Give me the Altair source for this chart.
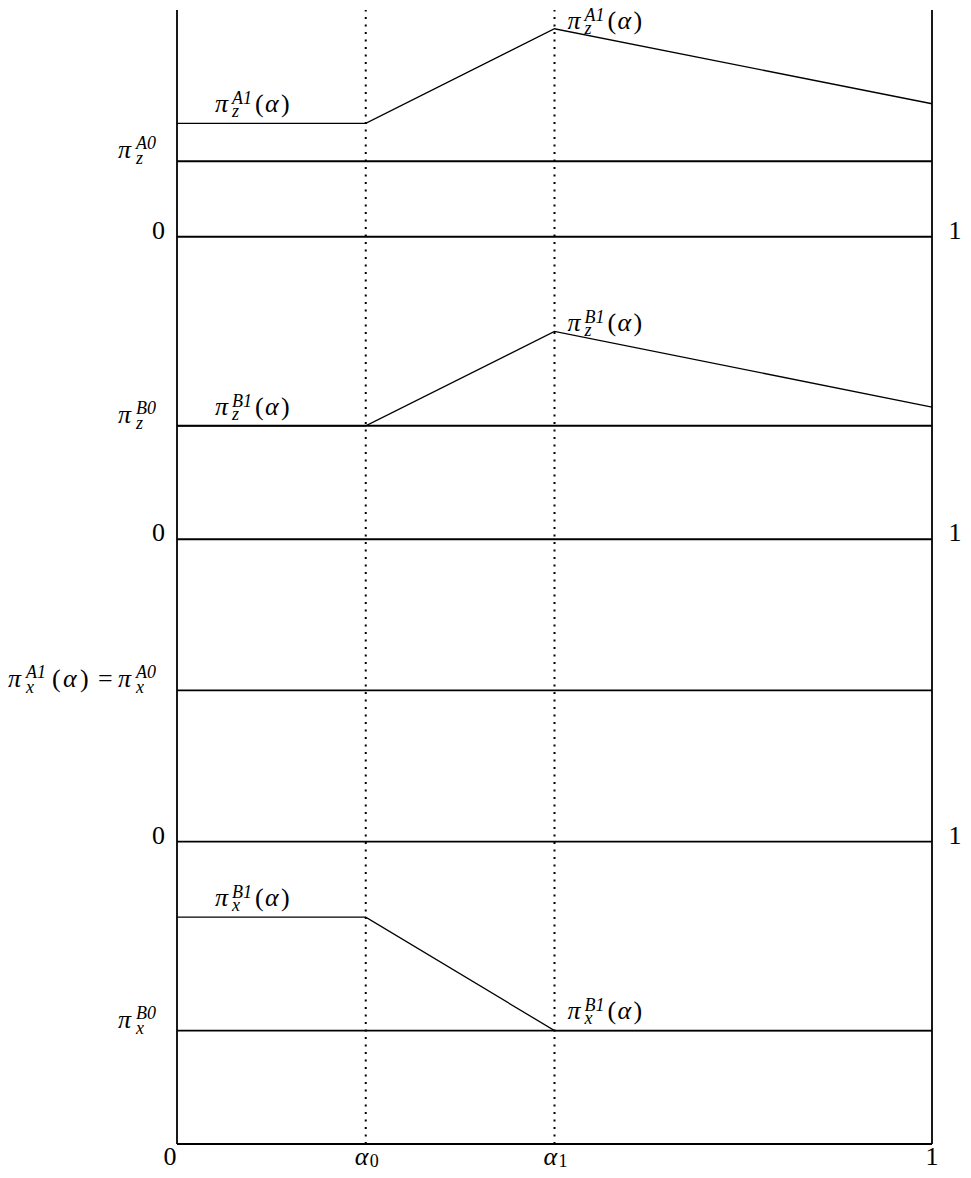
import altair as alt
import pandas as pd

FONT = "Liberation Serif"

# ---------------- data ----------------
# horizontal axis (alpha)
ALPHA_TICKS = [0.0, 0.25, 0.5, 1.0]
TICK_MAIN = ["0", "α", "α", "1"]
TICK_SUB = ["", "0", "1", ""]

# four stacked panels, offsets of their zero lines (top panel first)
PANEL_OFFSETS = [3, 2, 1, 0]
TOP = 3.75

# piecewise curves (values relative to the panel's zero line)
KNOTS = [0.0, 0.25, 0.5, 1.0]
PI_Z_A1 = [0.375, 0.375, 0.688, 0.44]   # panel 1
PI_Z_B1 = [0.375, 0.375, 0.687, 0.437]  # panel 2
PI_X_B1 = [0.75, 0.75, 0.375, 0.375]    # panel 4
CURVE_PANELS = [0, 1, 3]
CURVES = [PI_Z_A1, PI_Z_B1, PI_X_B1]

# constant levels: pi_z^A0, pi_z^B0, pi_x^A0 (= pi_x^A1), pi_x^B0
LEVEL_PANELS = [0, 1, 2, 3]
LEVEL_VALUES = [0.25, 0.375, 0.5, 0.375]
LEVEL_SUP = ["A0", "B0", "A0", "B0"]
LEVEL_SUB = ["z", "z", "x", "x"]

# curve labels: panel, anchor alpha, anchor value, superscript, subscript, placement
CL_PANEL = [0, 0, 1, 1, 3, 3]
CL_X = [0.0, 0.5, 0.0, 0.5, 0.0, 0.5]
CL_Y = [0.375, 0.688, 0.375, 0.687, 0.75, 0.375]
CL_SUP = ["A1", "A1", "B1", "B1", "B1", "B1"]
CL_SUB = ["z", "z", "z", "z", "x", "x"]
CL_PLACE = ["flat", "peak", "flat", "peak", "flat", "after"]

XS = alt.Scale(domain=[0, 1], nice=False, zero=False)
YS = alt.Scale(domain=[0, TOP], nice=False, zero=False)

PLACE_OFFSET = {"flat": (38, -11), "peak": (13, 0), "after": (13, -12)}

layers = []


def piece(x, y, text, dx, dy, size=26, italic=False, align="left", line_height=13):
    df = pd.DataFrame({"x": [x], "y": [y], "t": [text]})
    return alt.Chart(df).mark_text(
        dx=dx, dy=dy, fontSize=size, font=FONT,
        fontStyle="italic" if italic else "normal",
        align=align, baseline="alphabetic", color="black",
        lineHeight=line_height,
    ).encode(
        x=alt.X("x:Q", scale=XS, axis=None),
        y=alt.Y("y:Q", scale=YS, axis=None),
        text=alt.Text("t:N"),
    )


# vertical borders and dotted alpha lines
border_df = pd.DataFrame({"x": [0.0, 1.0], "y": [0.0, 0.0], "y2": [TOP, TOP]})
layers.append(
    alt.Chart(border_df).mark_rule(color="black", strokeWidth=1.8).encode(
        x=alt.X("x:Q", scale=XS, axis=None),
        y=alt.Y("y:Q", scale=YS, axis=None),
        y2="y2:Q",
    )
)
dot_df = pd.DataFrame({"x": ALPHA_TICKS[1:3], "y": [0.0, 0.0], "y2": [TOP, TOP]})
layers.append(
    alt.Chart(dot_df).mark_rule(color="black", strokeWidth=2,
                                strokeDash=[2, 5.5], strokeCap="butt").encode(
        x=alt.X("x:Q", scale=XS, axis=None),
        y=alt.Y("y:Q", scale=YS, axis=None),
        y2="y2:Q",
    )
)

# zero lines and constant levels
hy = list(PANEL_OFFSETS) + [PANEL_OFFSETS[p] + v for p, v in zip(LEVEL_PANELS, LEVEL_VALUES)]
h_df = pd.DataFrame({"x": [0.0] * len(hy), "x2": [1.0] * len(hy), "y": hy})
layers.append(
    alt.Chart(h_df).mark_rule(color="black", strokeWidth=1.9).encode(
        x=alt.X("x:Q", scale=XS, axis=None),
        x2="x2:Q",
        y=alt.Y("y:Q", scale=YS, axis=None),
    )
)

# piecewise curves
rows = []
for k, (p, vals) in enumerate(zip(CURVE_PANELS, CURVES)):
    for xv, yv in zip(KNOTS, vals):
        rows.append({"x": xv, "y": PANEL_OFFSETS[p] + yv, "c": k})
c_df = pd.DataFrame(rows)
layers.append(
    alt.Chart(c_df).mark_line(color="black", strokeWidth=1.3).encode(
        x=alt.X("x:Q", scale=XS, axis=None),
        y=alt.Y("y:Q", scale=YS, axis=None),
        detail="c:N",
    )
)

# curve labels  pi_s^{S}(alpha); superscript and subscript stacked in one text
for p, xv, yv, sup, sub, place in zip(CL_PANEL, CL_X, CL_Y, CL_SUP, CL_SUB, CL_PLACE):
    yy = PANEL_OFFSETS[p] + yv
    dx0, dy0 = PLACE_OFFSET[place]
    layers += [
        piece(xv, yy, "π", dx0, dy0, italic=True),
        piece(xv, yy, [sup, sub], dx0 + 17, dy0 - 8, size=18, italic=True),
        piece(xv, yy, "(", dx0 + 40, dy0),
        piece(xv, yy, "α", dx0 + 50, dy0, italic=True),
        piece(xv, yy, ")", dx0 + 66, dy0),
    ]

# level labels on the left  pi_s^{X0}
for p, v, sup, sub in zip(LEVEL_PANELS, LEVEL_VALUES, LEVEL_SUP, LEVEL_SUB):
    yy = PANEL_OFFSETS[p] + v
    layers += [
        piece(0.0, yy, "π", -59, -3, italic=True),
        piece(0.0, yy, [sup, sub], -41, -12, size=18, italic=True, line_height=15),
    ]
    if p == 2:
        layers += [
            piece(0.0, yy, "π", -169, -3, italic=True),
            piece(0.0, yy, ["A1", "x"], -151, -12, size=18, italic=True, line_height=15),
            piece(0.0, yy, "(", -125, -3),
            piece(0.0, yy, "α", -114, -3, italic=True),
            piece(0.0, yy, ")", -97, -3),
            piece(0.0, yy, "=", -79, -3),
        ]

# 0 / 1 labels at each panel's zero line
for off in PANEL_OFFSETS[:3]:
    layers.append(piece(0.0, off, "0", -12, 2, align="right"))
    layers.append(piece(1.0, off, "1", 23, 2, align="center"))

# bottom alpha labels
for xv, main, sub in zip(ALPHA_TICKS, TICK_MAIN, TICK_SUB):
    if sub:
        layers.append(piece(xv, 0.0, main, -11, 21, italic=True))
        layers.append(piece(xv, 0.0, sub, 4, 23, size=18))
    else:
        layers.append(piece(xv, 0.0, main, -7 if xv == 0 else 0, 21, align="center"))

chart = alt.layer(*layers).properties(
    width=755,
    height=1134,
    padding={"left": 169, "top": 2, "right": 31, "bottom": 24},
    autosize=alt.AutoSizeParams(type="none"),
).configure_view(stroke=None)

chart.save("out.html", embed_options={"renderer": "svg", "actions": False})
